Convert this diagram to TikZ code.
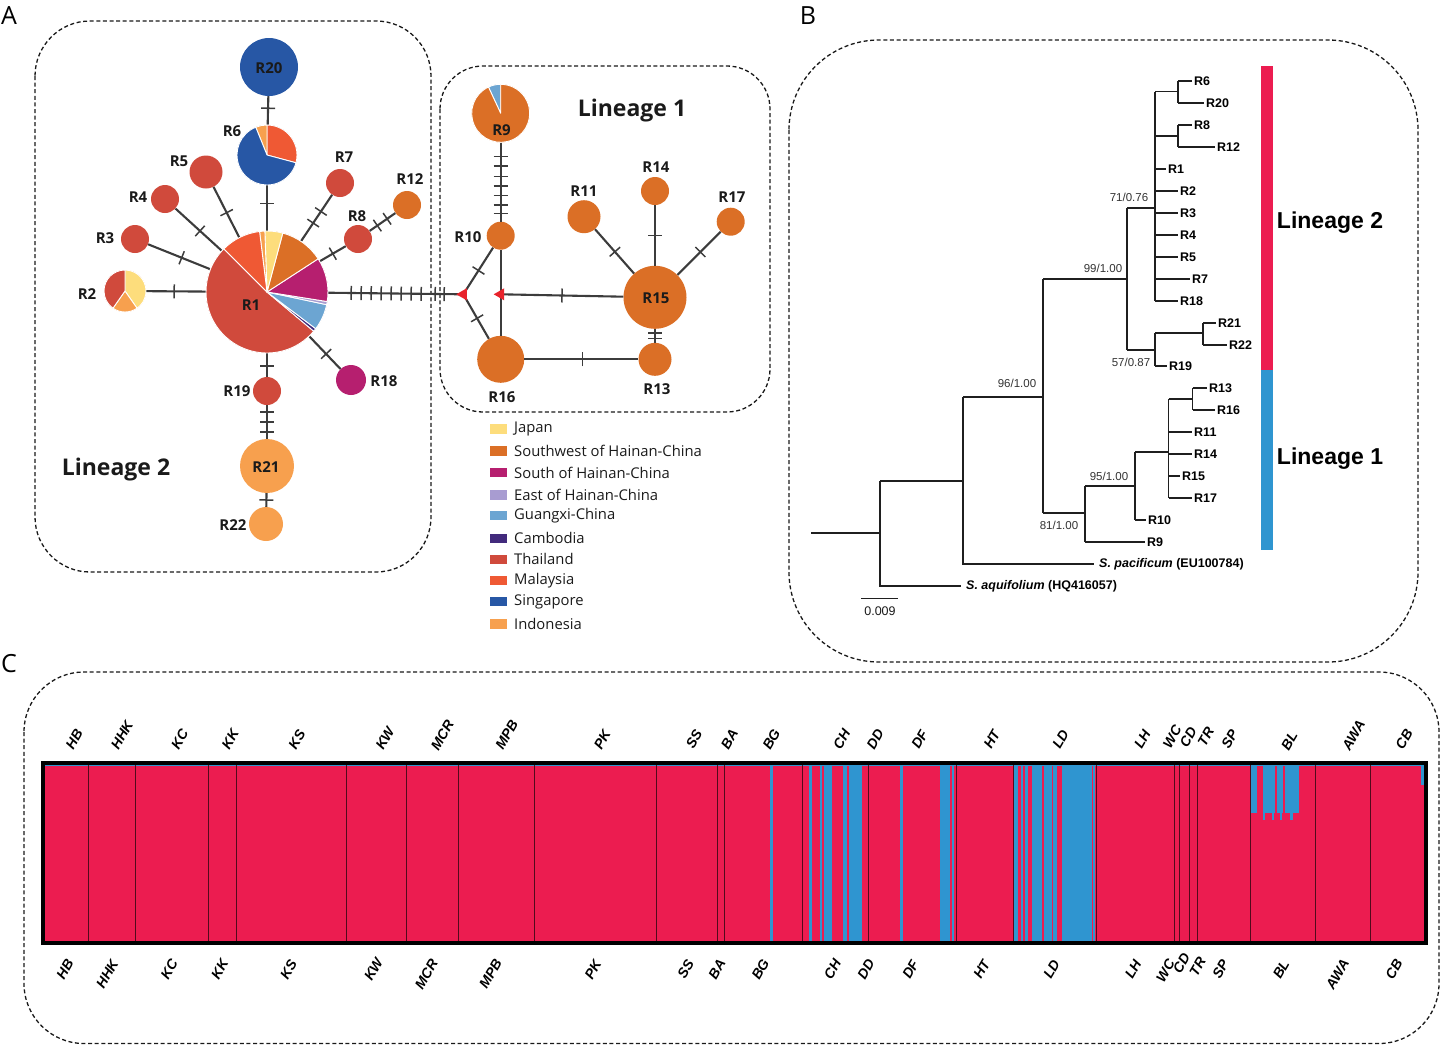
\documentclass[tikz,border=0pt]{standalone}
\usepackage{fontspec}
\setmainfont{Open Sans}
\newfontfamily\arialf{Liberation Sans}
\usetikzlibrary{shapes.geometric,decorations.markings}
\definecolor{thai}{HTML}{D04A3C}
\definecolor{malay}{HTML}{EF5934}
\definecolor{indo}{HTML}{F7A04E}
\definecolor{japan}{HTML}{FDDD7C}
\definecolor{swh}{HTML}{DB6F26}
\definecolor{sth}{HTML}{B61F6F}
\definecolor{east}{HTML}{A89CD1}
\definecolor{gx}{HTML}{6CA5D2}
\definecolor{camb}{HTML}{422A7C}
\definecolor{sing}{HTML}{2757A5}
\definecolor{ltred}{HTML}{EC1C50}
\definecolor{ltblue}{HTML}{2F95D0}
\definecolor{edgec}{HTML}{3C3C3C}
\definecolor{mvred}{HTML}{E8232B}
\definecolor{txt}{HTML}{1A1A1A}
\newcommand\pieslice[6]{\begin{scope}[shift={(#1,#2)},y=1pt]\filldraw[fill=#6,draw=white,line width=0.9pt,line join=round] (0,0) -- (#4:#3) arc[start angle=#4,end angle=#5,radius=#3] -- cycle;\end{scope}}
\begin{document}
\begin{tikzpicture}[x=1pt,y=-1pt,
  hap/.style={circle,inner sep=0pt,minimum size=#1},
  edge/.style={draw=edgec,line width=2.1pt},
  tk/.style={postaction={decorate,decoration={markings,mark=at position #1 with {\draw[edgec,line width=1.5pt] (0pt,-7pt) -- (0pt,7pt);}}}},
  dbox/.style={draw=black!90,line width=1.3pt,dash pattern=on 4pt off 2.6pt},
  lab/.style={inner sep=0pt,text=txt,font=\bfseries\fontsize{15}{18}\selectfont},
  lin/.style={inner sep=0pt,text=txt,font=\bfseries\fontsize{23}{26}\selectfont},
  mv/.style={regular polygon,regular polygon sides=3,shape border rotate=90,minimum size=14pt,inner sep=0pt,fill=mvred},
  legtxt/.style={anchor=west,inner sep=0pt,text=txt,font=\fontsize{14.8}{17}\selectfont},
  legsq/.style={rectangle,inner sep=0pt,minimum width=17pt,minimum height=9.5pt},
  panel/.style={inner sep=0pt,font=\fontsize{25}{28}\selectfont},
  tr/.style={draw=black!88,line width=1.4pt},
  tip/.style={anchor=west,inner sep=0pt,font=\arialf\bfseries\fontsize{12.5}{14}\selectfont},
  sup/.style={inner sep=0pt,text=black!80,font=\arialf\fontsize{11.5}{13}\selectfont},
  tlin/.style={inner sep=0pt,font=\arialf\bfseries\fontsize{23}{26}\selectfont},
  plab/.style={inner sep=0pt,rotate=60,font=\arialf\bfseries\itshape\fontsize{14}{16}\selectfont},
  bnd/.style={draw=black!65!ltred,line width=0.9pt}
]
\useasboundingbox (0,0) rectangle (1441,1045);

% ---------- panel letters
\node[panel] (pA) at (9,16) {A};
\node[panel] (pB) at (808,16) {B};
\node[panel] (pC) at (9,664) {C};

% ---------- dashed boxes
\draw[dbox,rounded corners=55pt] (35,21) rectangle (431,572);
\draw[dbox,rounded corners=43pt] (440,66) rectangle (770,412);
\draw[dbox,rounded corners=90pt] (789,40) rectangle (1418,662);
\draw[dbox,rounded corners=60pt] (24,672) rectangle (1439,1043.5);

% ---------- haplotype network : lineage 2
\node[hap=58pt,fill=sing] (R20) at (269,67) {};
\node[hap=60pt,fill=sing] (R6) at (267,155) {};
\node[hap=33pt,fill=thai] (R5) at (206,172) {};
\node[hap=28pt,fill=thai] (R4) at (165,199) {};
\node[hap=28pt,fill=thai] (R3) at (135,239) {};
\node[hap=42pt,fill=thai] (R2) at (125,291) {};
\node[hap=122pt,fill=thai] (R1) at (267,292) {};
\node[hap=28pt,fill=thai] (R7) at (340,183) {};
\node[hap=28pt,fill=thai] (R8) at (358,239) {};
\node[hap=28pt,fill=swh] (R12) at (407,205) {};
\node[hap=30pt,fill=sth] (R18) at (351,380) {};
\node[hap=28pt,fill=thai] (R19) at (267,391) {};
\node[hap=54pt,fill=indo] (R21) at (267,466) {};
\node[hap=34pt,fill=indo] (R22) at (266,524) {};
% lineage 1
\node[hap=58pt,fill=swh] (R9) at (500.7,113.3) {};
\node[hap=28pt,fill=swh] (R10) at (500.7,235.7) {};
\node[hap=47pt,fill=swh] (R16) at (500.7,359.3) {};
\node[hap=63pt,fill=swh] (R15) at (655,297.3) {};
\node[hap=33pt,fill=swh] (R13) at (655,359.3) {};
\node[hap=33pt,fill=swh] (R11) at (584,216.7) {};
\node[hap=28pt,fill=swh] (R14) at (655,191) {};
\node[hap=28pt,fill=swh] (R17) at (730.7,221.7) {};
\coordinate (MV1) at (463.3,294.3);
\coordinate (MV2) at (500.7,294.3);

% edges
\draw[edge,tk=0.42] (R20) -- (R6);
\draw[edge,tk=0.4] (R6) -- (R1);
\draw[edge,tk=0.51] (R5) -- (R1);
\draw[edge,tk=0.53] (R4) -- (R1);
\draw[edge,tk=0.54] (R3) -- (R1);
\draw[edge,tk=0.47] (R2) -- (R1);
\draw[edge,tk=0.36,tk=0.61] (R7) -- (R1);
\draw[edge,tk=0.5] (R8) -- (R1);
\draw[edge,tk=0.3,tk=0.68] (R8) -- (R12);
\draw[edge,tk=0.54] (R1) -- (R18);
\draw[edge,tk=0.54] (R1) -- (R19);
\draw[edge,tk=0.2,tk=0.5,tk=0.8] (R19) -- (R21);
\draw[edge,tk=0.5] (R21) -- (R22);
\draw[edge,tk=23pt,tk=33pt,tk=43pt,tk=53pt,tk=63pt,tk=73pt,tk=83pt,tk=93pt,tk=107pt,tk=116pt] (R1) -- (MV1);
\draw[edge,tk=0.18,tk=0.3,tk=0.43,tk=0.55,tk=0.67,tk=0.79,tk=0.9] (R9) -- (R10);
\draw[edge,tk=0.49] (R10) -- (MV1);
\draw[edge,tk=0.54] (MV1) -- (R16);
\draw[edge] (R10) -- (MV2);
\draw[edge] (MV2) -- (R16);
\draw[edge,tk=0.5] (R15) -- (MV2);
\draw[edge,tk=0.51] (R16) -- (R13);
\draw[edge,tk=0.3,tk=0.7] (R15) -- (R13);
\draw[edge,tk=0.51] (R11) -- (R15);
\draw[edge,tk=0.5] (R14) -- (R15);
\draw[edge,tk=0.47] (R17) -- (R15);

% pies
\pieslice{267}{292}{61}{-225}{-40}{thai}
\pieslice{267}{292}{61}{-40}{-37}{camb}
\pieslice{267}{292}{61}{-37}{-12}{gx}
\pieslice{267}{292}{61}{-12}{-9}{east}
\pieslice{267}{292}{61}{-9}{33}{sth}
\pieslice{267}{292}{61}{33}{75}{swh}
\pieslice{267}{292}{61}{75}{92}{japan}
\pieslice{267}{292}{61}{92}{97}{indo}
\pieslice{267}{292}{61}{97}{135}{malay}
\pieslice{267}{155}{30}{-15}{90}{malay}
\pieslice{267}{155}{30}{90}{112}{indo}
\pieslice{267}{155}{30}{112}{345}{sing}
\pieslice{125}{291}{21}{-55}{90}{japan}
\pieslice{125}{291}{21}{-125}{-55}{indo}
\pieslice{125}{291}{21}{90}{235}{thai}
\pieslice{500.7}{113.3}{29}{90}{115}{gx}
\pieslice{500.7}{113.3}{29}{115}{450}{swh}

\node[mv] (MV1t) at (MV1) {};
\node[mv] (MV2t) at (MV2) {};

% labels
\node[lab] (lR20) at (269,68) {R20};
\node[lab] (lR6) at (232,131) {R6};
\node[lab] (lR5) at (179,161) {R5};
\node[lab] (lR4) at (138,197) {R4};
\node[lab] (lR3) at (105,238) {R3};
\node[lab] (lR2) at (87,294) {R2};
\node[lab] (lR1) at (251,305) {R1};
\node[lab] (lR7) at (344,157) {R7};
\node[lab] (lR8) at (357,216) {R8};
\node[lab] (lR12) at (410,179) {R12};
\node[lab] (lR18) at (384,381) {R18};
\node[lab] (lR19) at (237,391) {R19};
\node[lab] (lR21) at (266,467) {R21};
\node[lab] (lR22) at (233,525) {R22};
\node[lab] (lR9) at (501.5,130) {R9};
\node[lab] (lR10) at (468,237.5) {R10};
\node[lab] (lR16) at (502,397) {R16};
\node[lab] (lR15) at (656,298) {R15};
\node[lab] (lR13) at (657,389) {R13};
\node[lab] (lR11) at (584,191) {R11};
\node[lab] (lR14) at (656,167) {R14};
\node[lab] (lR17) at (732,197) {R17};
\node[lin] (lin1) at (632,111) {Lineage 1};
\node[lin] (lin2) at (116,470) {Lineage 2};

% legend
\foreach \y/\c/\t in {429/japan/Japan,451/swh/Southwest of Hainan-China,472.7/sth/South of Hainan-China,495/east/East of Hainan-China,515.7/gx/Guangxi-China,538.3/camb/Cambodia,559.3/thai/Thailand,580.7/malay/Malaysia,601.7/sing/Singapore,624/indo/Indonesia}{
  \node[legsq,fill=\c] (sq\c) at (498.5,\y) {};
  \node[legtxt] (lt\c) at (514,\y) {\t};
}

% ---------- tree (panel B)
\draw[tr] (811,533) -- (880,533);
\draw[tr] (880,481) -- (880,586) -- (961,586);
\draw[tr] (880,481) -- (963,481);
\draw[tr] (963,397) -- (963,564) -- (1094,564);
\draw[tr] (963,397) -- (1043,397);
\draw[tr] (1043,279) -- (1043,513);
\draw[tr] (1043,279) -- (1127,279);
\draw[tr] (1127,208) -- (1127,350);
\draw[tr] (1127,208) -- (1155,208);
\draw[tr] (1155,91.5) -- (1155,301);
\draw[tr] (1155,91.5) -- (1178,91.5);
\draw[tr] (1178,81) -- (1178,103);
\draw[tr] (1178,81) -- (1192,81);
\draw[tr] (1178,103) -- (1204,103);
\draw[tr] (1155,136) -- (1178,136);
\draw[tr] (1178,125) -- (1178,147);
\draw[tr] (1178,125) -- (1192,125);
\draw[tr] (1178,147) -- (1215,147);
\draw[tr] (1155,169) -- (1166,169);
\foreach \y in {191,213,235,257,301} \draw[tr] (1155,\y) -- (1178,\y);
\draw[tr] (1155,279) -- (1190,279);
\draw[tr] (1127,350) -- (1155,350);
\draw[tr] (1155,333) -- (1155,366);
\draw[tr] (1155,333) -- (1203,333);
\draw[tr] (1203,323) -- (1203,345);
\draw[tr] (1203,323) -- (1216,323);
\draw[tr] (1203,345) -- (1227,345);
\draw[tr] (1155,366) -- (1167,366);
\draw[tr] (1043,513) -- (1085,513);
\draw[tr] (1085,486) -- (1085,542);
\draw[tr] (1085,542) -- (1145,542);
\draw[tr] (1085,486) -- (1135,486);
\draw[tr] (1135,452) -- (1135,520);
\draw[tr] (1135,520) -- (1146,520);
\draw[tr] (1135,452) -- (1168.5,452);
\draw[tr] (1168.5,399) -- (1168.5,498);
\draw[tr] (1168.5,399) -- (1192.5,399);
\draw[tr] (1192.5,388) -- (1192.5,410);
\draw[tr] (1192.5,388) -- (1207,388);
\draw[tr] (1192.5,410) -- (1215,410);
\foreach \y in {432,454,498} \draw[tr] (1168.5,\y) -- (1192,\y);
\draw[tr] (1168.5,476) -- (1180,476);
\draw[tr] (861,598.5) -- (898,598.5);
\node[sup,text=black!90,font=\arialf\fontsize{12.5}{14}\selectfont] (scl) at (880,611.5) {0.009};

\node[tip] (tR6) at (1194,81) {R6};
\node[tip] (tR20) at (1206,103) {R20};
\node[tip] (tR8) at (1194,125) {R8};
\node[tip] (tR12) at (1217,147) {R12};
\node[tip] (tR1) at (1168,169) {R1};
\node[tip] (tR2) at (1180,191) {R2};
\node[tip] (tR3) at (1180,213) {R3};
\node[tip] (tR4) at (1180,235) {R4};
\node[tip] (tR5) at (1180,257) {R5};
\node[tip] (tR7) at (1192,279) {R7};
\node[tip] (tR18) at (1180,301) {R18};
\node[tip] (tR21) at (1218,323) {R21};
\node[tip] (tR22) at (1229,345) {R22};
\node[tip] (tR19) at (1169,366) {R19};
\node[tip] (tR13) at (1209,388) {R13};
\node[tip] (tR16) at (1217,410) {R16};
\node[tip] (tR11) at (1194,432) {R11};
\node[tip] (tR14) at (1194,454) {R14};
\node[tip] (tR15) at (1182,476) {R15};
\node[tip] (tR17) at (1194,498) {R17};
\node[tip] (tR10) at (1148,520) {R10};
\node[tip] (tR9) at (1147,542) {R9};
\node[tip] (tpac) at (1099,564) {\itshape S. pacificum\upshape\ (EU100784)};
\node[tip] (taqu) at (966,586) {\itshape S. aquifolium\upshape\ (HQ416057)};

\node[sup] (s71) at (1129,197) {71/0.76};
\node[sup] (s99) at (1103,268) {99/1.00};
\node[sup] (s57) at (1131,362) {57/0.87};
\node[sup] (s96) at (1017,383) {96/1.00};
\node[sup] (s95) at (1109,476) {95/1.00};
\node[sup] (s81) at (1059,525) {81/1.00};

\fill[ltred] (1261,66) rectangle (1273,369.5);
\fill[ltblue] (1261,369.5) rectangle (1273,549.5);
\node[tlin] (tl2) at (1330,223) {Lineage 2};
\node[tlin] (tl1) at (1330,459) {Lineage 1};

% ---------- structure plot (panel C)
\fill[ltred] (44,764) rectangle (1425,942);
\foreach \a/\b in {770/772.5,809.3/812,820/822,823.5/831.7,842.7/847.3,849.3/862,900/902.5,940/950,952.3/954,1013.5/1018.3,1020.7/1022.5,1025/1028.3,1031.7/1041.7,1044/1051.7,1053.3/1056.7,1061.7/1091.7,1093.3/1095}
  \fill[ltblue] (\a,765) rectangle (\b,941);
\foreach \a/\b in {1250.7/1257.3,1262.7/1275,1277.3/1283.3,1285/1299.3}
  \fill[ltblue] (\a,765) rectangle (\b,813.3);
\foreach \a/\b in {1263.3/1265.3,1271.7/1274,1280/1282,1290/1292.7}
  \fill[ltblue] (\a,812) rectangle (\b,820);
\fill[ltblue] (1420.7,765) rectangle (1424,785);
\draw[ltblue,line width=1pt] (44,765.3) -- (1425,765.3);
\foreach \x in {88,135.5,208,236.3,346.4,406.6,458.9,534.2,656.8,717,724.3,802.5,868.5,956.7,1013.3,1096.5,1174.5,1179,1189.5,1197,1250,1315.7,1370.7}
  \draw[bnd] (\x,764) -- (\x,942);
\draw[black,line width=3.6pt] (43,763) rectangle (1426,943);

\foreach \x/\y/\t in {74.2/739.3/HB,122/735/HHK,179.8/739.3/KC,230.3/739.3/KK,296.9/739.3/KS,385/738.3/KW,442.4/735/MCR,506.7/735/MPB,602.2/739.3/PK,694/739.3/SS,729.4/739.3/BA,771.4/739.3/BG,841.7/739.3/CH,875.2/739.3/DD,919.7/739.3/DF,991.8/739.3/HT,1060.7/739.3/LD,1142.4/739.3/LH,1172.2/736.7/WC,1188.3/737.3/CD,1205.8/736.7/TR,1229.6/739.3/SP,1289.3/740.7/BL,1353.6/735/AWA,1404.1/739.3/CB}
  \node[plab] (top\t) at (\x,\y) {\t};
\foreach \x/\y/\t in {65/969.3/HB,107.2/974/HHK,169.2/969.3/KC,219.7/969.3/KK,288.6/969.3/KS,373.5/969.3/KW,426.3/974/MCR,490.6/974/MPB,593/969.3/PK,685.7/969.3/SS,717/969.3/BA,760.4/969.3/BG,832.5/969.3/CH,866/969.3/DD,910.5/969.3/DF,981.7/969.3/HT,1051.5/969.3/LD,1133.2/969.3/LH,1165.4/970.7/WC,1181.4/963.3/CD,1197.5/966.7/TR,1220.5/969.3/SP,1281/969.3/BL,1337.5/974/AWA,1394/969.3/CB}
  \node[plab] (bot\t) at (\x,\y) {\t};
\end{tikzpicture}
\end{document}
